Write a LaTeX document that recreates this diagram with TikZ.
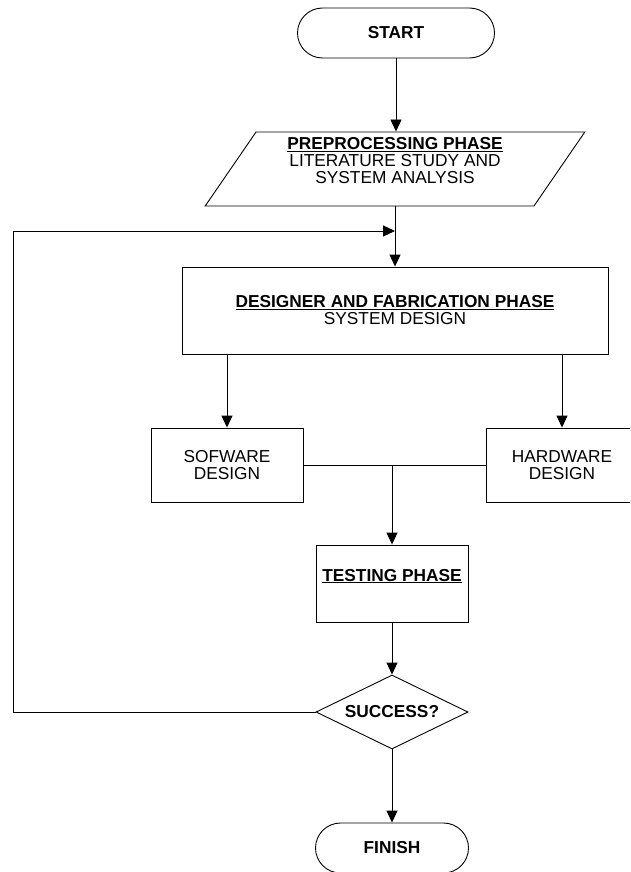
\documentclass[tikz,border=0pt]{standalone}
\usepackage{fontspec}
\setmainfont{Liberation Sans}
\usepackage{tikz}
\usetikzlibrary{shapes.geometric,arrows.meta}

\begin{document}
\begin{tikzpicture}[x=1pt,y=-1pt,line width=0.9pt,font=\fontsize{17.3}{17}\selectfont,
  blk/.style n args={2}{draw,rectangle,align=center,inner sep=0pt,minimum width=#1pt,minimum height=#2pt},
  term/.style={blk={#1}{50},rounded corners=25pt},
  arr/.style={-{Triangle[length=12pt,width=11pt]}}]
\useasboundingbox (0,0) rectangle (630,872);
\clip (0,0) rectangle (630,872);
\node[term=197](start) at(396,33) {\textbf{START}};
\node[draw,trapezium,trapezium left angle=58,trapezium right angle=122,trapezium stretches=true,
   minimum width=381pt,minimum height=74pt,align=center,inner sep=0pt](prep) at(395,169)
   {\underline{\textbf{PREPROCESSING PHASE}}\\LITERATURE STUDY AND\\SYSTEM ANALYSIS\\~};
\node[blk={426}{87}](design) at(395,310.5) {\underline{\textbf{DESIGNER AND FABRICATION PHASE}}\\SYSTEM DESIGN};
\node[blk={152}{74}](sw) at(227,465) {SOFWARE\\DESIGN};
\node[blk={152}{74}](hw) at(562,465) {HARDWARE\\DESIGN};
\node[blk={152}{77}](test) at(392,583.5) {\underline{\textbf{TESTING PHASE}}\\~};
\node[draw,diamond,aspect=2,minimum width=152pt,minimum height=74pt,inner sep=0pt](succ) at(392,712) {\textbf{SUCCESS?}};
\node[term=153](finish) at(392,848) {\textbf{FINISH}};
\coordinate (fb) at (13,231);
% connectors
\draw[arr] (start.south) -- (start.south |- prep.north);
\draw[arr] (prep.south) -- (prep.south |- design.north);
\foreach \n in {sw,hw} {
   \draw[arr] (\n.north |- design.south) -- (\n.north);
}
\draw (sw.east) -- (hw.west);
\draw[arr] (test.north |- sw.east) -- (test.north);
\foreach \a/\b in {test/succ,succ/finish} {
   \draw[arr] (\a) -- (\b);
}
\draw[arr] (succ.west) -| (fb) -- (fb -| prep.south);
\end{tikzpicture}
\end{document}
